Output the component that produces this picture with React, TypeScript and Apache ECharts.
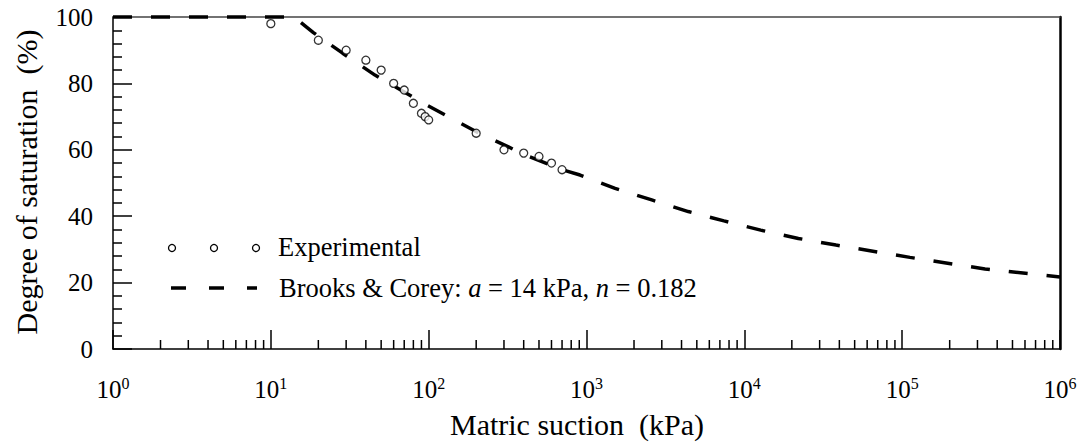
import React, { useEffect, useRef } from "react";
import * as echarts from "echarts";

// Experimental points
const suctionExp = [10, 20, 30, 40, 50, 60, 70, 80, 90, 95, 100, 200, 300, 400, 500, 600, 700];
const saturationExp = [98, 93, 90, 87, 84, 80, 78, 74, 71, 70, 69, 65, 60, 59, 58, 56, 54];

// Brooks & Corey curve
const fitSuction = [1, 14, 18.6, 28.5, 45.7, 97, 156, 211, 320, 388, 713, 910, 1517, 2590, 4415, 7430, 12700, 22000, 38100, 112000, 335000, 1000000];
const fitSaturation = [100, 100, 95.3, 89.1, 82.5, 73.5, 68.2, 64.9, 60.9, 58.9, 53.9, 52.4, 48.4, 44.9, 41.4, 38.6, 35.8, 33.3, 31.3, 27.6, 24.1, 21.7];

// Axis
const decades = [0, 1, 2, 3, 4, 5];
const minorMultipliers = [2, 3, 4, 5, 6, 7, 8, 9];
const yTicks = [0, 20, 40, 60, 80, 100];

const FONT = "Liberation Serif";

export default function App() {
  const ref = useRef<HTMLDivElement>(null);
  useEffect(() => {
    if (!ref.current) return;
    const chart = echarts.init(ref.current, undefined, { renderer: "svg" });
    const minorTickValues: number[] = [];
    decades.forEach((d) => minorMultipliers.forEach((k) => minorTickValues.push(k * Math.pow(10, d))));

    chart.setOption({
      animation: false,
      backgroundColor: "#fff",
      textStyle: { fontFamily: FONT },
      grid: { left: 113, right: 25, top: 17, bottom: 96, containLabel: false },
      xAxis: [
        {
          type: "log",
          logBase: 10,
          min: 1,
          max: 1000000,
          interval: 1,
          position: "bottom",
          axisLine: { show: true, onZero: false, lineStyle: { color: "#000", width: 1.5 } },
          axisTick: { show: true, inside: true, length: 19, lineStyle: { color: "#000", width: 1.5 } },
          minorTick: { show: false },
          splitLine: { show: false },
          axisLabel: {
            margin: 26,
            color: "#000",
            fontFamily: FONT,
            fontSize: 25,
            formatter: (v: number) => "10{s|" + Math.round(Math.log10(v)) + "}",
            rich: {
              s: { fontFamily: FONT, fontSize: 16, color: "#000", verticalAlign: "bottom", padding: [0, 0, 12, 0] },
            },
          },
        },
        {
          type: "log",
          logBase: 10,
          min: 1,
          max: 1000000,
          position: "top",
          axisLine: { show: true, onZero: false, lineStyle: { color: "#444", width: 1.5 } },
          axisTick: { show: false },
          axisLabel: { show: false },
          splitLine: { show: false },
        },
      ],
      yAxis: [
        {
          type: "value",
          min: 0,
          max: 100,
          interval: 20,
          position: "left",
          axisLine: { show: true, onZero: false, lineStyle: { color: "#000", width: 1.5 } },
          axisTick: { show: true, inside: true, length: 19, lineStyle: { color: "#000", width: 1.5 } },
          minorTick: { show: true, splitNumber: 5, length: 9, lineStyle: { color: "#000", width: 1.5 } },
          splitLine: { show: false },
          minorSplitLine: { show: false },
          axisLabel: {
            margin: 20,
            color: "#000",
            fontFamily: FONT,
            fontSize: 25,
            formatter: (v: number) => (yTicks.includes(v) ? String(v) : ""),
          },
        },
        {
          type: "value",
          min: 0,
          max: 100,
          position: "right",
          axisLine: { show: true, onZero: false, lineStyle: { color: "#000", width: 2.5 } },
          axisTick: { show: false },
          axisLabel: { show: false },
          splitLine: { show: false },
        },
      ],
      series: [
        {
          type: "custom",
          xAxisIndex: 0,
          yAxisIndex: 0,
          silent: true,
          clip: false,
          data: minorTickValues.map((v) => [v, 0]),
          renderItem: (params: any, api: any) => {
            const p = api.coord([api.value(0), 0]);
            return {
              type: "line",
              shape: { x1: p[0], y1: p[1], x2: p[0], y2: p[1] - 9 },
              style: { stroke: "#000", lineWidth: 1.5 },
            };
          },
        },
        {
          type: "line",
          name: "Brooks & Corey",
          data: fitSuction.map((x, i) => [x, fitSaturation[i]]),
          showSymbol: false,
          symbol: "none",
          clip: false,
          smooth: false,
          lineStyle: { color: "#000", width: 3.5, type: [19, 19] },
          z: 3,
        },
        {
          type: "scatter",
          name: "Experimental",
          data: suctionExp.map((x, i) => [x, saturationExp[i]]),
          symbol: "circle",
          symbolSize: 8,
          itemStyle: { color: "#fff", borderColor: "#000", borderWidth: 1.3 },
          z: 4,
        },
      ],
      graphic: [
        {
          type: "text",
          x: 26,
          y: 182,
          rotation: Math.PI / 2,
          style: {
            text: "Degree of saturation  (%)",
            fontFamily: FONT,
            fontSize: 30,
            fill: "#000",
            align: "center",
            verticalAlign: "middle",
          },
        },
        {
          type: "text",
          x: 577,
          y: 424,
          style: {
            text: "Matric suction  (kPa)",
            fontFamily: FONT,
            fontSize: 30,
            fill: "#000",
            align: "center",
            verticalAlign: "middle",
          },
        },
        { type: "circle", shape: { cx: 172, cy: 248, r: 3.5 }, style: { fill: "#fff", stroke: "#000", lineWidth: 1.3 } },
        { type: "circle", shape: { cx: 214, cy: 248, r: 3.5 }, style: { fill: "#fff", stroke: "#000", lineWidth: 1.3 } },
        { type: "circle", shape: { cx: 256, cy: 248, r: 3.5 }, style: { fill: "#fff", stroke: "#000", lineWidth: 1.3 } },
        {
          type: "text",
          x: 278,
          y: 247,
          style: {
            text: "Experimental",
            fontFamily: FONT,
            fontSize: 26.5,
            fill: "#000",
            verticalAlign: "middle",
          },
        },
        {
          type: "line",
          shape: { x1: 171, y1: 288, x2: 257, y2: 288 },
          style: { stroke: "#000", lineWidth: 3.5, lineDash: [15, 23] },
        },
        {
          type: "text",
          x: 279,
          y: 288,
          style: {
            text: "Brooks & Corey: {i|a} = 14 kPa, {i|n} = 0.182",
            fontFamily: FONT,
            fontSize: 26.5,
            fill: "#000",
            verticalAlign: "middle",
            rich: {
              i: { fontFamily: FONT, fontSize: 26.5, fontStyle: "italic", fill: "#000" },
            },
          },
        },
      ],
    });
    return () => chart.dispose();
  }, []);
  return <div ref={ref} style={{ position: "fixed", left: 0, top: 0, width: 1085, height: 445, background: "#fff" }} />;
}
